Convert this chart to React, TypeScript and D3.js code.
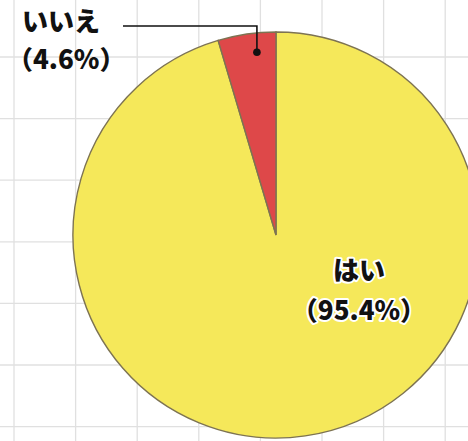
import React, { useEffect, useRef } from 'react';
import * as d3 from 'd3';

const labels = ['はい', 'いいえ'];
const percents = [95.4, 4.6];
const colors = ['#F5E85A', '#DE4849'];

const width = 468;
const height = 441;
const cx = 276;
const cy = 235;
const radius = 203;

export default function App() {
  const ref = useRef<SVGSVGElement>(null);

  useEffect(() => {
    const svg = d3.select(ref.current);
    svg.selectAll('*').remove();

    // background grid
    const gx = d3.range(14, width, 61.6);
    const gy = d3.range(57 - 61.6, height, 61.6);
    const grid = svg.append('g').attr('stroke', '#e0e0e0').attr('stroke-width', 1.3);
    grid
      .selectAll('line.v')
      .data(gx)
      .enter()
      .append('line')
      .attr('x1', (d) => d)
      .attr('x2', (d) => d)
      .attr('y1', 0)
      .attr('y2', height);
    grid
      .selectAll('line.h')
      .data(gy)
      .enter()
      .append('line')
      .attr('x1', 0)
      .attr('x2', width)
      .attr('y1', (d) => d)
      .attr('y2', (d) => d);

    const pie = d3.pie<number>().sort(null).value((d) => d);
    const arcs = pie(percents);
    const arc = d3.arc<d3.PieArcDatum<number>>().innerRadius(0).outerRadius(radius);

    const g = svg.append('g').attr('transform', 'translate(' + cx + ',' + cy + ')');
    g.selectAll('path')
      .data(arcs)
      .enter()
      .append('path')
      .attr('d', arc)
      .attr('fill', (d, i) => colors[i])
      .attr('stroke', '#7d7352')
      .attr('stroke-width', 1.4);

    const font = "'Noto Sans CJK JP', 'Noto Sans', sans-serif";

    // はい label inside
    const yes = g.append('g').attr('font-family', font).attr('font-weight', 900).attr('font-size', 26).attr('text-anchor', 'middle');
    [
      { t: labels[0], y: 45 },
      { t: '（' + percents[0] + '%）', y: 85 },
    ].forEach((row) => {
      yes
        .append('text')
        .attr('x', 83)
        .attr('y', row.y)
        .attr('fill', '#111')
        .attr('stroke', '#fff')
        .attr('stroke-width', 4)
        .attr('stroke-linejoin', 'round')
        .attr('paint-order', 'stroke')
        .text(row.t);
    });

    // いいえ leader line
    const no = arcs[1];
    const a = no.endAngle - (no.endAngle - no.startAngle) * 0.36;
    const px = Math.sin(a) * radius * 0.905;
    const py = -Math.cos(a) * radius * 0.905;
    const lineY = 26 - cy;
    g.append('path')
      .attr('d', 'M' + (123 - cx) + ',' + lineY + 'H' + px + 'V' + py)
      .attr('fill', 'none')
      .attr('stroke', '#111')
      .attr('stroke-width', 1.6);
    g.append('circle').attr('cx', px).attr('cy', py).attr('r', 3.8).attr('fill', '#111');

    const noLbl = svg.append('g').attr('font-family', font).attr('font-weight', 900).attr('font-size', 26).attr('fill', '#111');
    noLbl.append('text').attr('x', 22).attr('y', 31).text(labels[1]);
    noLbl.append('text').attr('x', 7).attr('y', 69).text('（' + percents[1] + '%）');
  }, []);

  return (
    <svg
      ref={ref}
      width={width}
      height={height}
      style={{ position: 'absolute', left: 0, top: 0, background: '#fff' }}
    />
  );
}
